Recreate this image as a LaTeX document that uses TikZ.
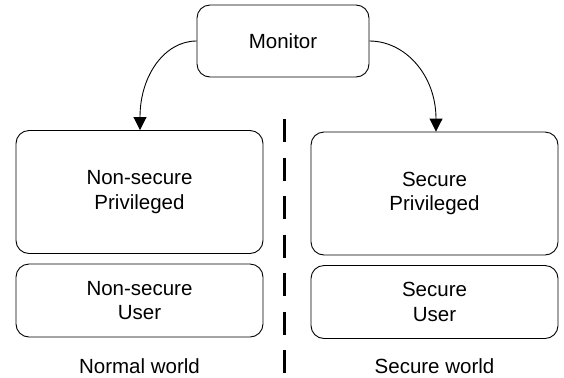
\documentclass[tikz,border=0pt]{standalone}
\usepackage{fontspec}
\setmainfont{Liberation Sans}
\usetikzlibrary{arrows.meta}
\begin{document}
\begin{tikzpicture}[x=1bp,y=-1bp,
  box/.style={draw=black,line width=0.9bp,rounded corners=13bp,align=center,
    font=\fontsize{20.5bp}{24.5bp}\selectfont,inner sep=0pt},
  lbl/.style={font=\fontsize{20.5bp}{24.5bp}\selectfont,inner sep=0pt},
  arr/.style={line width=0.9bp,-{Triangle[width=13bp,length=13bp]}},
  sep/.style={line width=2.7bp,dash pattern=on 23bp off 15.5bp}]
\useasboundingbox (0,0) rectangle (564,377);
\node[box,minimum width=172bp,minimum height=72bp] (mon) at (283,41) {Monitor};
\node[box,minimum width=247bp,minimum height=123bp] (nsp) at (139.5,192) {Non-secure\\Privileged};
\node[box,minimum width=247bp,minimum height=73bp] (nsu) at (139.5,300.5) {Non-secure\\User};
\node[box,minimum width=247bp,minimum height=123bp] (sp) at (434.5,193.5) {Secure\\Privileged};
\node[box,minimum width=247bp,minimum height=73bp] (su) at (434.5,302) {Secure\\User};
\node[lbl,anchor=base] (nw) at (139.5,373) {Normal world};
\node[lbl,anchor=base] (sw) at (434.5,373) {Secure world};
\coordinate (dtop) at (284.5,119);
\coordinate (dbot) at (284.5,377);
\draw[sep] (dtop) -- (dbot);
\draw[arr] (mon.west) .. controls (165,41) and (140,75) .. (nsp.north-|140,0);
\draw[arr] (mon.east) .. controls (405,41) and (436,75) .. (sp.north-|436,0);
\end{tikzpicture}
\end{document}
